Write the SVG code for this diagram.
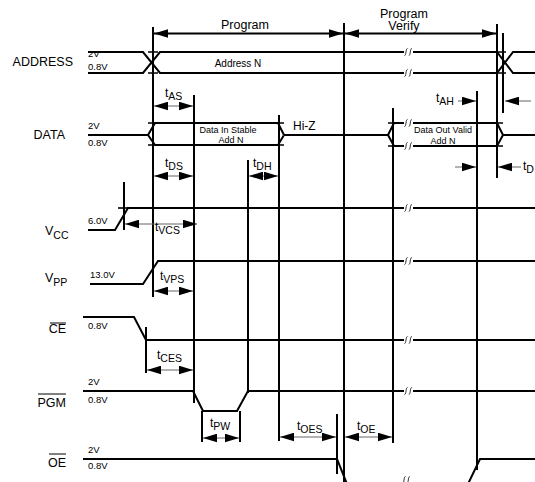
<svg xmlns="http://www.w3.org/2000/svg" width="535" height="482" viewBox="0 0 535 482">
<style>
text{font-family:"Liberation Sans",Arial,Helvetica,sans-serif;fill:#000}
.nm{font-size:12.5px}
.lv{font-size:9.5px}
.in{font-size:9px}
.t{font-size:12px}
.s{font-size:10.5px}
.sig{stroke:#000;stroke-width:2;fill:none;stroke-linejoin:miter}
.vl{stroke:#000;stroke-width:2}
.tk{stroke:#000;stroke-width:1.6}
.dim{stroke:#666;stroke-width:1}
.top{stroke:#000;stroke-width:2}
.ov{stroke:#000;stroke-width:1}
</style>
<defs>
<marker id="ah" markerUnits="userSpaceOnUse" markerWidth="14" markerHeight="9" refX="13" refY="4" orient="auto-start-reverse" viewBox="0 0 13 8"><path d="M0,0L13,4L0,8z" fill="#000"/></marker>
<g id="bk"><rect x="-4" y="-1.6" width="9" height="3.2" fill="#fff"/><path d="M-3.5,3.5C-1.5,3.5 -2.5,-3.5 -0.5,-3.5M0.8,3.5C2.8,3.5 1.8,-3.5 3.8,-3.5" stroke="#000" stroke-width="0.8" fill="none"/></g>
</defs>

<g id="phases">
<line class="top" x1="154" y1="33.5" x2="343" y2="33.5" marker-start="url(#ah)" marker-end="url(#ah)"/>
<line class="top" x1="345" y1="33.5" x2="496" y2="33.5" marker-start="url(#ah)" marker-end="url(#ah)"/>
<text class="nm" x="245" y="29" text-anchor="middle">Program</text>
<text class="nm" x="404" y="17.5" text-anchor="middle">Program</text>
<text class="nm" x="404" y="30" text-anchor="middle">Verify</text>
</g>

<g id="address">
<text class="nm" x="73" y="65.5" text-anchor="end">ADDRESS</text>
<text class="lv" x="88" y="57">2V</text>
<text class="lv" x="88" y="70">0.8V</text>
<path class="sig" d="M88,52H143L160,73H497L513,52H535M88,73H143L160,52H497L513,73H535"/>
<path class="tk" d="M148,52H158M148,73H158M496,52H506M496,73H506"/>
<text class="in" x="238" y="67" text-anchor="middle" style="font-size:10px">Address N</text>
</g>

<g id="data">
<text class="nm" x="65" y="139" text-anchor="end">DATA</text>
<text class="lv" x="88" y="129">2V</text>
<text class="lv" x="88" y="146">0.8V</text>
<path class="sig" d="M88,135H148M284,135H388M503,135H535M148,135L155,123H278L284,135M148,135L155,145H278L284,135M388,135L394,123H497L503,135M388,135L394,146H497L503,135"/>
<path class="tk" d="M148,123H158M148,145H158M274,123H284M274,145H284M388,123H398M388,146H398M493,123H503M493,146H503"/>
<text class="in" x="228" y="133" text-anchor="middle">Data In Stable</text>
<text class="in" x="231" y="143" text-anchor="middle">Add N</text>
<text class="nm" x="293" y="129.5" style="font-size:12px">Hi-Z</text>
<text class="in" x="443" y="133" text-anchor="middle">Data Out Valid</text>
<text class="in" x="443" y="143.5" text-anchor="middle">Add N</text>
</g>

<g id="vcc">
<text class="nm" x="45" y="235">V<tspan class="s" dy="3.5">CC</tspan></text>
<text class="lv" x="88" y="224">6.0V</text>
<path class="sig" d="M88,230H115L128,208H535"/>
<path class="tk" d="M118,208H131"/>
</g>

<g id="vpp">
<text class="nm" x="45" y="282">V<tspan class="s" dy="4">PP</tspan></text>
<text class="lv" x="90" y="278">13.0V</text>
<path class="sig" d="M90,284H143L158,261H535"/>
</g>

<g id="ce">
<text class="nm" x="66" y="333" text-anchor="end">CE</text>
<line class="ov" x1="50" y1="323" x2="66" y2="323"/>
<text class="lv" x="88" y="329">0.8V</text>
<path class="sig" d="M83,317H134L146,340H535"/>
</g>

<g id="pgm">
<text class="nm" x="66" y="407" text-anchor="end">PGM</text>
<line class="ov" x1="38" y1="394" x2="66" y2="394"/>
<text class="lv" x="88" y="385">2V</text>
<text class="lv" x="88" y="403">0.8V</text>
<path class="sig" d="M83,391H193L203,411H237L248,391H535"/>
</g>

<g id="oe">
<text class="nm" x="66" y="467" text-anchor="end">OE</text>
<line class="ov" x1="49" y1="454" x2="66" y2="454"/>
<text class="lv" x="88" y="453">2V</text>
<text class="lv" x="88" y="469">0.8V</text>
<path class="sig" d="M83,459H337L347,484M468,484L480,459H535"/>
</g>

<g id="connectors">
<g id="verticals">
<line class="vl" x1="153" y1="27" x2="153" y2="297"/>
<line class="vl" x1="194" y1="95" x2="194" y2="403"/>
<line class="vl" x1="248" y1="160" x2="248" y2="393"/>
<line class="vl" x1="279" y1="115" x2="279" y2="441"/>
<line class="vl" x1="344" y1="23" x2="344" y2="482"/>
<line class="vl" x1="337" y1="414" x2="337" y2="474"/>
<line class="vl" x1="393" y1="108" x2="393" y2="443"/>
<line class="vl" x1="477" y1="91" x2="477" y2="470"/>
<line class="vl" x1="497" y1="24" x2="497" y2="178"/>
<line class="vl" x1="503" y1="33" x2="503" y2="113"/>
<line class="vl" x1="146" y1="327" x2="146" y2="373"/>
<line class="vl" x1="124" y1="182" x2="124" y2="230"/>
<line class="vl" x1="202" y1="411" x2="202" y2="442"/>
<line class="vl" x1="240" y1="411" x2="240" y2="442"/>
</g>
<g id="dims">
<line class="dim" x1="154" y1="106" x2="193" y2="106" marker-start="url(#ah)" marker-end="url(#ah)"/>
<line class="dim" x1="154" y1="176" x2="193" y2="176" marker-start="url(#ah)" marker-end="url(#ah)"/>
<line class="dim" x1="249" y1="176" x2="278" y2="176" marker-start="url(#ah)" marker-end="url(#ah)"/>
<line class="dim" x1="125" y1="224" x2="197" y2="224" marker-start="url(#ah)" marker-end="url(#ah)"/>
<line class="dim" x1="154" y1="291" x2="193" y2="291" marker-start="url(#ah)" marker-end="url(#ah)"/>
<line class="dim" x1="147" y1="370" x2="193" y2="370" marker-start="url(#ah)" marker-end="url(#ah)"/>
<line class="dim" x1="203" y1="438" x2="239" y2="438" marker-start="url(#ah)" marker-end="url(#ah)"/>
<line class="dim" x1="280" y1="437" x2="336" y2="437" marker-start="url(#ah)" marker-end="url(#ah)"/>
<line class="dim" x1="345" y1="437" x2="392" y2="437" marker-start="url(#ah)" marker-end="url(#ah)"/>
<line class="dim" x1="458" y1="101" x2="476" y2="101" marker-end="url(#ah)"/>
<line class="dim" x1="531" y1="101" x2="505" y2="101" marker-end="url(#ah)"/>
<line class="dim" x1="455" y1="167" x2="476" y2="167" marker-end="url(#ah)"/>
<line class="dim" x1="521" y1="167" x2="498" y2="167" marker-end="url(#ah)"/>
</g>
<g id="breaks">
<use href="#bk" x="408" y="52"/>
<use href="#bk" x="408" y="73"/>
<use href="#bk" x="408" y="123"/>
<use href="#bk" x="408" y="146"/>
<use href="#bk" x="408" y="208"/>
<use href="#bk" x="408" y="261"/>
<use href="#bk" x="408" y="340"/>
<use href="#bk" x="408" y="391"/>
<use href="#bk" x="406" y="480"/>
</g>
</g>

<g id="timing-labels">
<text class="t" x="165" y="97">t<tspan class="s" dy="3">AS</tspan></text>
<text class="t" x="165" y="167">t<tspan class="s" dy="3">DS</tspan></text>
<text class="t" x="253" y="167">t<tspan class="s" dy="3">DH</tspan></text>
<text class="t" x="155" y="231">t<tspan class="s" dy="3">VCS</tspan></text>
<text class="t" x="160" y="280">t<tspan class="s" dy="3">VPS</tspan></text>
<text class="t" x="157" y="359">t<tspan class="s" dy="3">CES</tspan></text>
<text class="t" x="210" y="427">t<tspan class="s" dy="3">PW</tspan></text>
<text class="t" x="297" y="430">t<tspan class="s" dy="3">OES</tspan></text>
<text class="t" x="357" y="430">t<tspan class="s" dy="3">OE</tspan></text>
<text class="t" x="436" y="102">t<tspan class="s" dy="3">AH</tspan></text>
<text class="t" x="523" y="170">t<tspan class="s" dy="3">D</tspan></text>
</g>
</svg>
